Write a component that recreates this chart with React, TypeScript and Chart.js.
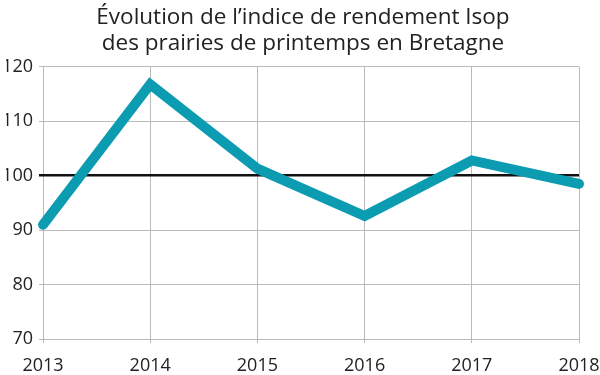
import React, { useEffect, useRef } from "react";
import { Chart, registerables } from "chart.js";

Chart.register(...registerables);

const years = ["2013", "2014", "2015", "2016", "2017", "2018"];
const indexValues = [91, 116.8, 101.3, 92.6, 102.8, 98.5];
const titleLines = ["Évolution de l’indice de rendement Isop", "des prairies de printemps en Bretagne"];

export default function App() {
  const ref = useRef<HTMLCanvasElement>(null);
  useEffect(() => {
    document.body.style.margin = "0";
    const ctx = ref.current!;
    const font = "'Open Sans', sans-serif";
    const chart = new Chart(ctx, {
      type: "line",
      data: {
        labels: years,
        datasets: [
          {
            data: indexValues,
            borderColor: "#0b9cb1",
            borderWidth: 10,
            borderCapStyle: "round",
            borderJoinStyle: "miter",
            pointRadius: 0,
            tension: 0,
            clip: false as any,
          },
        ],
      },
      options: {
        animation: false,
        responsive: false,
        layout: { padding: { left: 6, right: 0, top: 5, bottom: 0 } },
        plugins: {
          legend: { display: false },
          tooltip: { enabled: false },
          title: {
            display: true,
            text: titleLines,
            color: "#222",
            font: { family: font, size: 22.5, weight: "normal", lineHeight: 1.13 },
            padding: { top: 0, bottom: 11 },
          },
        },
        scales: {
          x: {
            offset: false,
            border: { display: false },
            grid: { color: "#bbb", lineWidth: 1, tickLength: 4, drawTicks: true },
            ticks: { color: "#222", font: { family: font, size: 18 }, padding: 12, maxRotation: 0 },
            afterFit: (s: any) => {
              s.height = 36;
              s.paddingLeft = 0;
              s.paddingRight = 21;
            },
          },
          y: {
            min: 70,
            max: 120,
            border: { display: false },
            grid: {
              color: (c: any) => (c.tick && c.tick.value === 100 ? "#111" : "#bbb"),
              lineWidth: (c: any) => (c.tick && c.tick.value === 100 ? 2.5 : 1),
              tickLength: 4,
            },
            ticks: { stepSize: 10, color: "#222", font: { family: font, size: 18 }, padding: 6 },
            afterFit: (s: any) => {
              s.width = 37;
            },
          },
        },
      },
    });
    return () => chart.destroy();
  }, []);
  return <canvas ref={ref} width={600} height={375} style={{ display: "block" }} />;
}
